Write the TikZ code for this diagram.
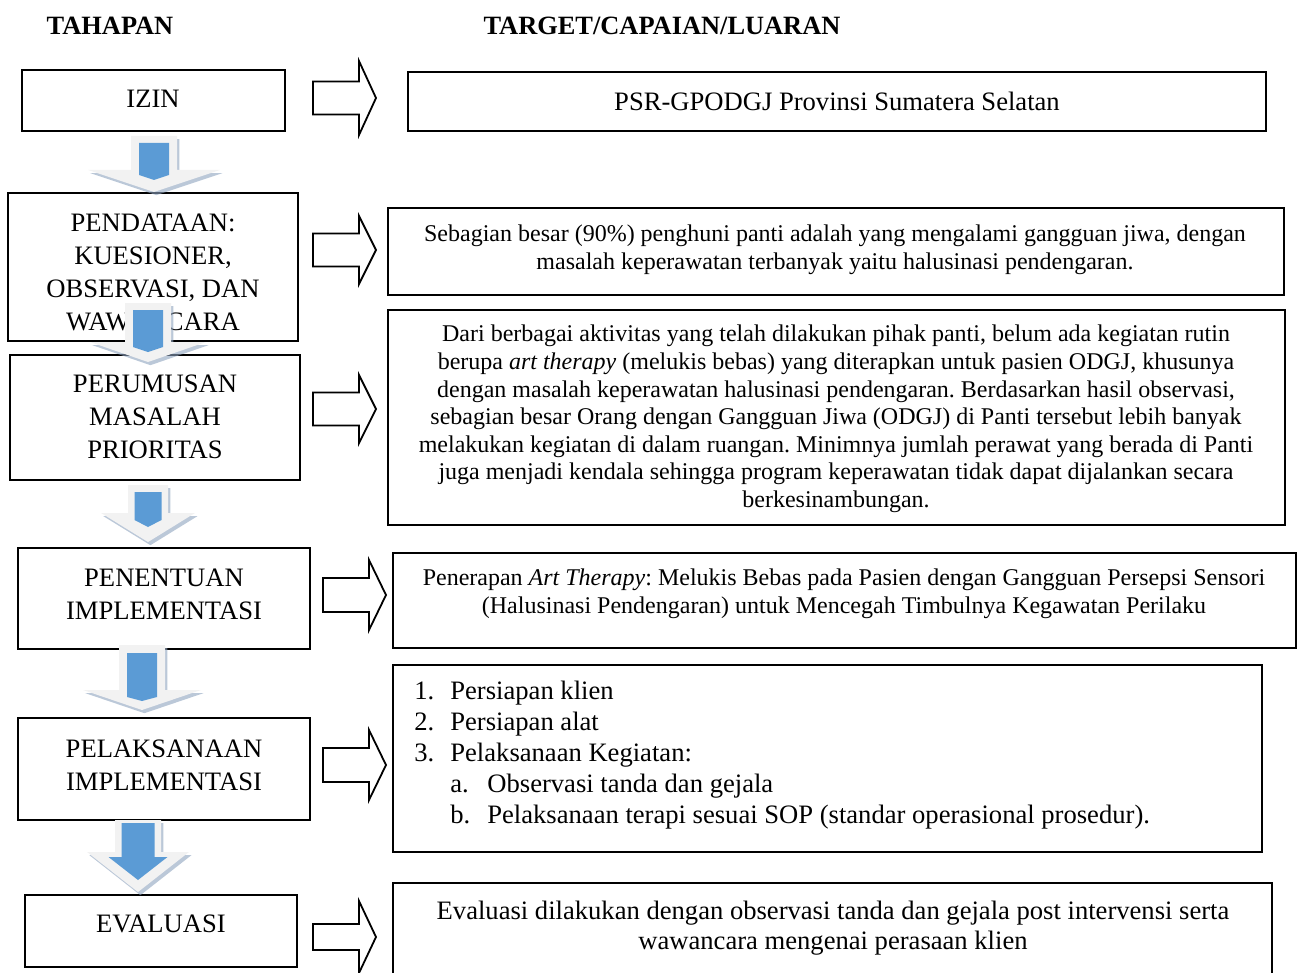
\documentclass[tikz,border=0pt]{standalone}
\usepackage{fontspec}
\setmainfont{Liberation Serif}
\usetikzlibrary{fit,shadows}
\frenchspacing

\definecolor{arrblue}{HTML}{5B9BD5}
\definecolor{arrwhite}{HTML}{F2F2F2}
\definecolor{arrshade}{HTML}{8EA3BE}

\begin{document}
\begin{tikzpicture}
  [  x=0.5pt, y=-0.5pt,
     stagebox/.style={draw, line width=0.9pt, inner sep=0pt},
     goalbox/.style={draw, line width=0.9pt, inner sep=0pt},
     stagetxt/.style={font=\fontsize{13.3}{16.5}\selectfont,
                  align=center,
                  inner sep=0pt},
     goaltxt/.style={font=\fontsize{12}{13.8}\selectfont,
                  align=center,
                  inner sep=0pt},
     colhead/.style={font=\fontsize{13.2}{15}\selectfont\bfseries,
                  inner sep=0pt},
     rarr/.style={draw, line width=0.9pt, fill=white, line join=miter},
     darr/.style={fill=arrwhite,
                  drop shadow={shadow xshift=1.2pt, shadow yshift=-1.6pt,
                               fill=arrshade, opacity=0.6}},
     barr/.style={fill=arrblue}
  ]
    \clip (0,0) rectangle (1300,973);

    % kolom judul
    \node[colhead] (tahapan) at (110,26) {TAHAPAN};
    \node[colhead] (target) at (662,26) {TARGET/CAPAIAN/LUARAN};

    % tahapan
    \node[stagebox, fit={(22,70) (285,131)}] (izin) {};
    \node[stagebox, fit={(8,193) (298,341)}] (pendataan) {};
    \node[stagebox, fit={(10,355) (300,480)}] (perumusan) {};
    \node[stagebox, fit={(18,548) (310,649)}] (penentuan) {};
    \node[stagebox, fit={(18,718) (310,820)}] (pelaksanaan) {};
    \node[stagebox, fit={(25,895) (297,967)}] (evaluasi) {};

    \node[stagetxt] (izin-t) at (153,99) {IZIN};
    \node[stagetxt] (pendataan-t) at (153,272)
        {PENDATAAN:\\KUESIONER,\\OBSERVASI, DAN\\WAWANCARA};
    \node[stagetxt] (perumusan-t) at (155,417) {PERUMUSAN\\MASALAH\\PRIORITAS};
    \node[stagetxt] (penentuan-t) at (164,594) {PENENTUAN\\IMPLEMENTASI};
    \node[stagetxt] (pelaksanaan-t) at (164,765) {PELAKSANAAN\\IMPLEMENTASI};
    \node[stagetxt] (evaluasi-t) at (161,924) {EVALUASI};

    % target/capaian/luaran
    \node[goalbox, fit={(408,72) (1266,131)}] (psr) {};
    \node[goalbox, fit={(388,208) (1284,295)}] (temuan) {};
    \node[goalbox, fit={(388,310) (1285,525)}] (masalah) {};
    \node[goalbox, fit={(393,553) (1296,648)}] (penerapan) {};
    \node[goalbox, fit={(393,665) (1262,852)}] (langkah) {};
    \node[goalbox, fit={(393,883) (1272,995)}] (hasil) {};

    \node[goaltxt, font=\fontsize{13.3}{15}\selectfont] (psr-t) at (837,101)
        {PSR-GPODGJ Provinsi Sumatera Selatan};
    \node[goaltxt] (temuan-t) at (835,250)
        {Sebagian besar (90\%) penghuni panti adalah yang mengalami gangguan jiwa, dengan\\
         masalah keperawatan terbanyak yaitu halusinasi pendengaran.};
    \node[goaltxt] (masalah-t) at (836,419)
        {Dari berbagai aktivitas yang telah dilakukan pihak panti, belum ada kegiatan rutin\\
         berupa \textit{art therapy} (melukis bebas) yang diterapkan untuk pasien ODGJ, khusunya\\
         dengan masalah keperawatan halusinasi pendengaran. Berdasarkan hasil observasi,\\
         sebagian besar Orang dengan Gangguan Jiwa (ODGJ) di Panti tersebut lebih banyak\\
         melakukan kegiatan di dalam ruangan. Minimnya jumlah perawat yang berada di Panti\\
         juga menjadi kendala sehingga program keperawatan tidak dapat dijalankan secara\\
         berkesinambungan.};
    \node[goaltxt] (penerapan-t) at (844,594)
        {Penerapan \textit{Art Therapy}: Melukis Bebas pada Pasien dengan Gangguan Persepsi Sensori\\
         (Halusinasi Pendengaran) untuk Mencegah Timbulnya Kegawatan Perilaku};
    \node[goaltxt, font=\fontsize{13.3}{15.5}\selectfont, align=left, anchor=west]
        (langkah-t) at (414,755)
        {\makebox[18pt][l]{1.}Persiapan klien\\
         \makebox[18pt][l]{2.}Persiapan alat\\
         \makebox[18pt][l]{3.}Pelaksanaan Kegiatan:\\
         \hspace*{18pt}\makebox[18.5pt][l]{a.}Observasi tanda dan gejala\\
         \hspace*{18pt}\makebox[18.5pt][l]{b.}Pelaksanaan terapi sesuai SOP (standar operasional prosedur).};
    \node[goaltxt, font=\fontsize{13.3}{15}\selectfont] (hasil-t) at (833,928)
        {Evaluasi dilakukan dengan observasi tanda dan gejala post intervensi serta\\
         wawancara mengenai perasaan klien};

    % panah ke bawah
    \foreach \cx/\yt/\yh/\yp/\sw/\hw/\bw/\bt/\bb/\bhw/\bp in {
        154/136/170/192/23/66/15/143/175/15/180,
        148/303/342/362/23/58/15/310/347/15/352,
        148/485/513/542/20/47/13.5/492/520/13.5/527,
        142/645/690/710/23/59/15/653/697/15/701,
        138/820/852/892/23/51/16.5/823/857/29.5/880}{
      \fill[darr] (\cx-\sw,\yt) -- (\cx+\sw,\yt) -- (\cx+\sw,\yh) -- (\cx+\hw,\yh)
          -- (\cx,\yp) -- (\cx-\hw,\yh) -- (\cx-\sw,\yh) -- cycle;
      \fill[barr] (\cx-\bw,\bt) -- (\cx+\bw,\bt) -- (\cx+\bw,\bb) -- (\cx+\bhw,\bb)
          -- (\cx,\bp) -- (\cx-\bhw,\bb) -- (\cx-\bw,\bb) -- cycle;
    }

    % panah ke kanan
    \foreach \x/\y/\s/\h in {313/98/16.5/37, 313/250/16.5/34, 313/409/16.5/34,
                             323/595/17/35, 323/765/17/35, 313/937/13/36}{
      \draw[rarr] (\x,\y-\s) -- (\x+46,\y-\s) -- (\x+46,\y-\h) -- (\x+63,\y)
          -- (\x+46,\y+\h) -- (\x+46,\y+\s) -- (\x,\y+\s) -- cycle;
    }

\end{tikzpicture}
\end{document}
